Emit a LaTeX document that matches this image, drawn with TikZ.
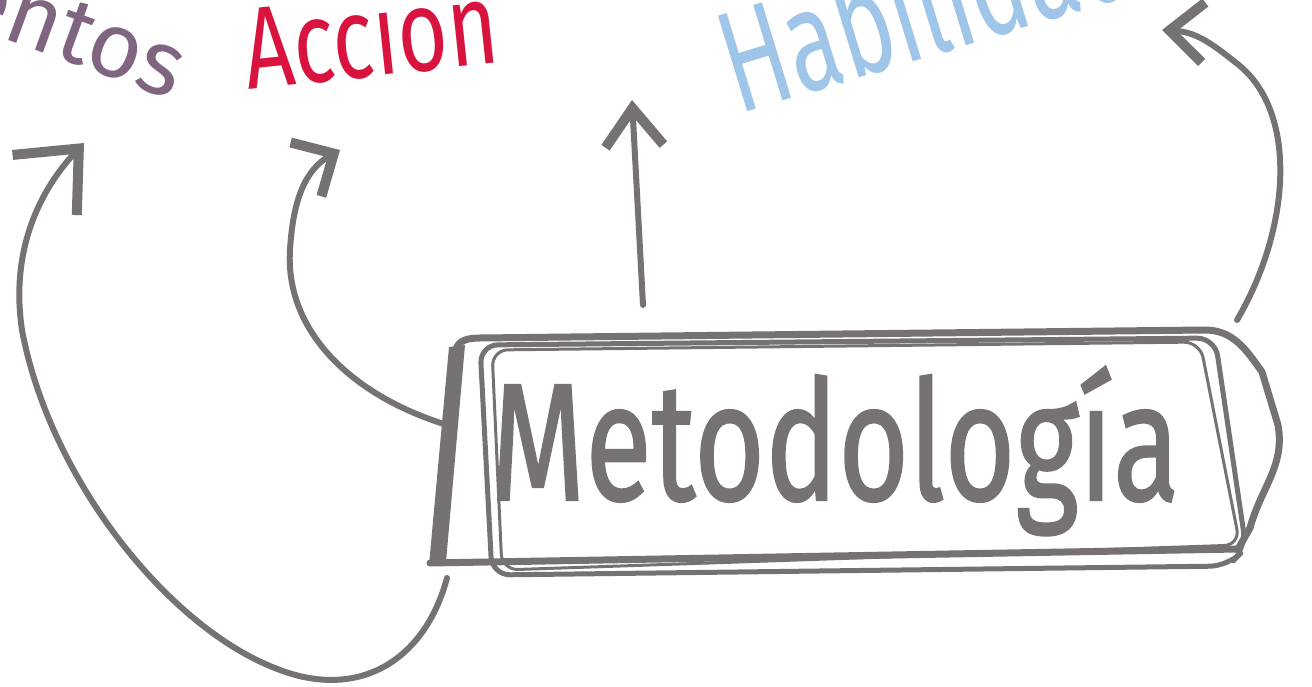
\documentclass[tikz,border=0pt]{standalone}
\usepackage{fontspec}
\newfontfamily\hand{Fira Sans}
\newfontfamily\handheavy[FakeBold=1.3]{Fira Sans}
\usetikzlibrary{arrows.meta}
\definecolor{ink}{HTML}{767271}
\definecolor{plum}{HTML}{7F6580}
\definecolor{crimson}{HTML}{D8143E}
\definecolor{sky}{HTML}{9FC5E8}
\tikzset{
  conn/.style={draw=ink, line width=6pt, line cap=round, line join=round},
  barb/.style 2 args={-{Straight Barb[length=#1,width=#2,line width=10pt]}},
  boxline/.style={draw=ink, line width=7pt, line cap=round, line join=round},
  thinbox/.style={draw=ink, line width=5pt, line cap=round, line join=round},
  label/.style={inner sep=0pt, transform shape}
}
\begin{document}
\begin{tikzpicture}[x=1pt,y=1pt]
\useasboundingbox (0,0) rectangle (1312,-687);
\clip (0,0) rectangle (1312,-687);
% labels
\node[label, anchor=base east, rotate=-20, text=plum, font=\hand\fontsize{92}{92}\selectfont] (conoc) at (172,-100) {entos};
\node[label, anchor=base, rotate=6, xscale=0.74, text=crimson, font=\hand\fontsize{116}{116}\selectfont] (accion) at (375,-76) {Acción};
\node[label, anchor=base west, rotate=17, xscale=0.66, text=sky, font=\hand\fontsize{145}{145}\selectfont] (habil) at (738,-115) {Habilidades};
% box
\node[label, anchor=base, xscale=0.73, text=ink, font=\handheavy\fontsize{167}{167}\selectfont] (metodo) at (835,-500) {Metodología};
\node[inner sep=0pt, minimum width=845pt, minimum height=245pt] (box) at (852,-455) {};
\fill[ink] (449,-347) -- (465,-345) -- (446,-562) -- (429,-565) -- cycle;
\draw[boxline] (456,-350) to[out=80,in=180] (480,-338) -- (1205,-330)
  to[out=0,in=125] (1262,-372) -- (1278,-425) to[out=-80,in=75] (1250,-528) -- (1238,-549) -- (430,-563);
\draw[thinbox, rounded corners=18pt] (480,-345) -- (1215,-338) -- (1246,-548) -- (1228,-566) -- (492,-575) -- cycle;
\draw[thinbox, line width=3pt, rounded corners=16pt] (492,-350) -- (1200,-342) -- (1240,-545) -- (502,-570) -- cycle;
% anchors on the box
\coordinate (s1) at (447,-578);
\coordinate (s2) at (447,-425);
\coordinate (s3) at (643,-305);
\coordinate (s4) at (1237,-320);
\coordinate (up) at (632,-100);
% connectors
\draw[conn, barb={50pt}{88pt}] (s1) .. controls (425,-660) and (360,-700) .. (280,-670)
  .. controls (170,-630) and (50,-480) .. (22,-330)
  .. controls (10,-250) and (40,-190) .. (84,-143);
\draw[conn, barb={32pt}{62pt}] (s2) .. controls (350,-395) and (285,-330) .. (290,-250)
  .. controls (293,-200) and (305,-170) .. (340,-150);
\draw[conn, barb={38pt}{58pt}] (s3) -- (up);
\draw[conn, barb={34pt}{60pt}] (s4) .. controls (1290,-230) and (1300,-110) .. (1235,-62)
  .. controls (1210,-42) and (1195,-32) .. (1162,-30);
\end{tikzpicture}
\end{document}
